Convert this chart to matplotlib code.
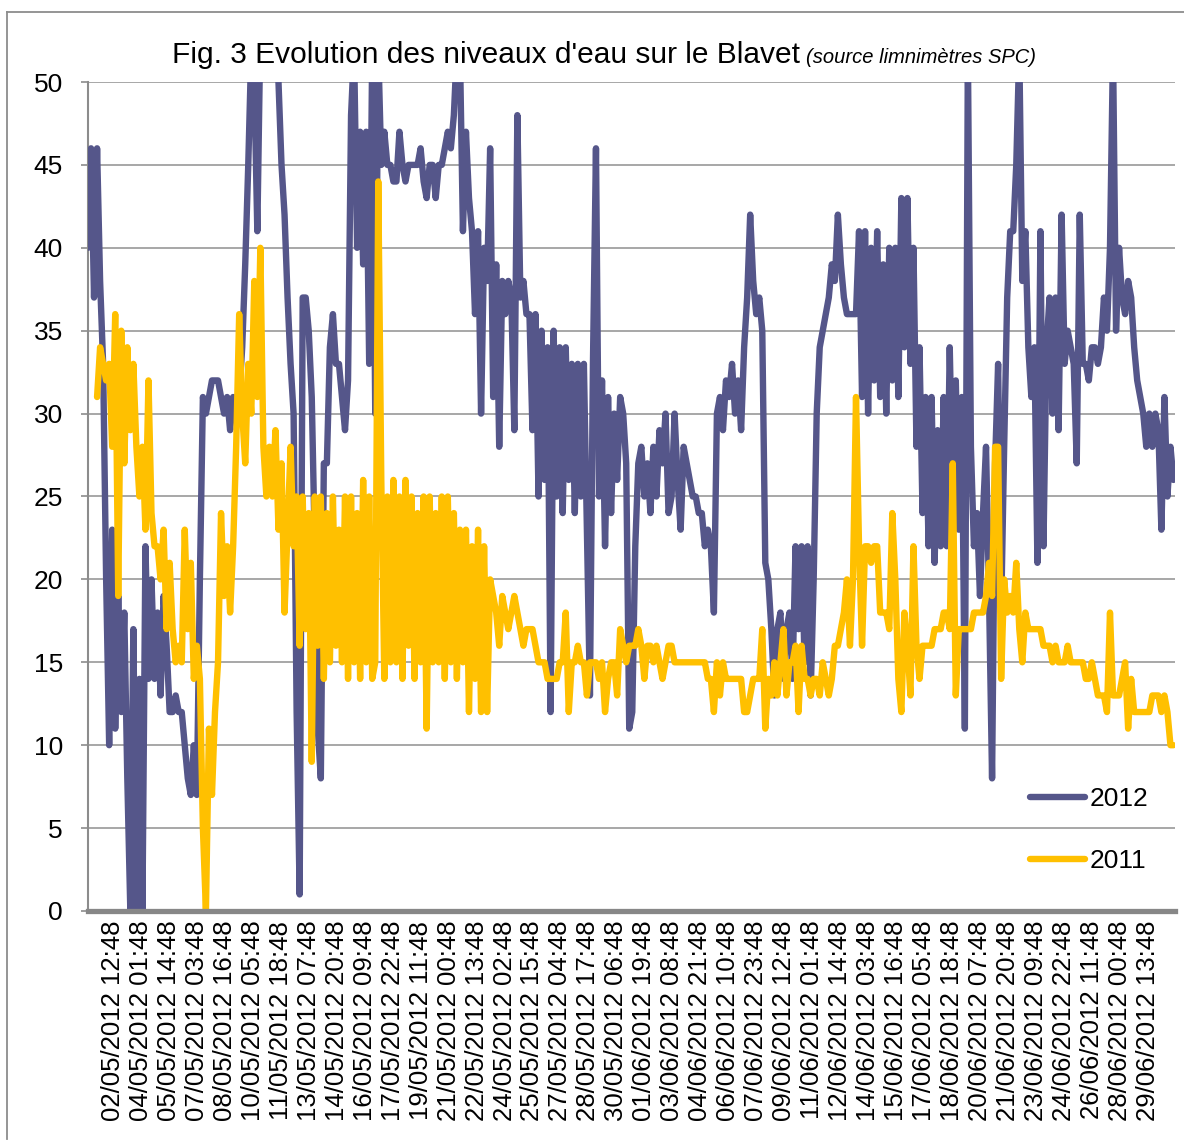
import numpy as np
import matplotlib
matplotlib.use("Agg")
import matplotlib.pyplot as plt
from matplotlib.lines import Line2D

plt.rcParams["path.simplify"] = False
nan = np.nan

# niveaux lus toutes les 4 heures (debut ~01/05 03:48)
step_h = 4
niveaux_2012 = [40, 46, 37, 46, 38, 33, 20, 10, 23, 11,
                19, 12, 18, 8, 0, 17, 0, 14, 0, 22,
                14, 20, 14, 18, 13, 19, 16, 12, 12, 13,
                12, 12, 10, 8, 7, 10, 7, 20, 31, 30,
                31, 32, 32, 32, 31, 30, 31, 29, 31, 30,
                31, 34, 39, 45, 52, 50, 41, 53, 55, 55,
                55, 55, 53, 50, 45, 42, 37, 33, 30, 12,
                1, 37, 37, 35, 31, 22, 11, 8, 27, 27,
                34, 36, 33, 33, 31, 29, 32, 48, 52, 40,
                47, 39, 47, 33, 52, 30, 52, 45, 47, 45,
                45, 44, 44, 47, 45, 44, 45, 45, 45, 45,
                46, 44, 43, 45, 45, 43, 45, 45, 46, 47,
                46, 48, 52, 52, 41, 47, 43, 41, 36, 41,
                30, 40, 38, 46, 31, 39, 28, 38, 36, 38,
                37, 29, 48, 37, 38, 36, 36, 29, 36, 25,
                35, 26, 34, 12, 35, 25, 34, 24, 34, 26,
                33, 24, 33, 25, 33, 23, 13, 33, 46, 25,
                32, 22, 31, 24, 30, 26, 31, 30, 27, 11,
                12, 22, 27, 28, 25, 27, 24, 28, 25, 29,
                27, 30, 24, 25, 30, 26, 23, 28, 27, 26,
                25, 25, 24, 24, 22, 23, 22, 18, 30, 31,
                29, 32, 31, 33, 30, 32, 29, 34, 37, 42,
                38, 36, 37, 35, 21, 20, 17, 13, 17, 18,
                14, 17, 18, 14, 22, 17, 22, 15, 22, 13,
                20, 30, 34, 35, 36, 37, 39, 38, 42, 39,
                37, 36, 36, 36, 36, 41, 31, 41, 30, 40,
                32, 41, 31, 39, 30, 40, 32, 40, 31, 43,
                34, 43, 33, 40, 28, 34, 24, 31, 22, 31,
                21, 29, 22, 31, 22, 34, 25, 32, 23, 31,
                11, 52, 28, 22, 24, 19, 24, 28, 19, 8,
                27, 33, 18, 28, 37, 41, 41, 45, 52, 38,
                41, 34, 31, 34, 21, 41, 22, 34, 37, 30,
                37, 29, 42, 33, 35, 34, 33, 27, 42, 33,
                33, 32, 34, 34, 33, 34, 37, 35, 40, 52,
                35, 40, 37, 36, 38, 37, 34, 32, 31, 30,
                28, 30, 28, 30, 29, 23, 31, 25, 28, 26]

niveaux_2011 = [nan, nan, nan, 31, 34, 33, 32, 33, 28, 36,
                19, 35, 27, 34, 29, 33, 28, 25, 28, 23,
                32, 24, 22, 22, 20, 23, 17, 21, 17, 15,
                16, 15, 23, 17, 21, 14, 16, 14, 5, 0,
                11, 7, 12, 15, 24, 19, 22, 18, 22, 28,
                36, 30, 27, 33, 30, 38, 31, 40, 28, 25,
                28, 25, 29, 23, 27, 18, 23, 28, 22, 25,
                16, 25, 17, 24, 9, 25, 16, 25, 14, 24,
                15, 25, 16, 23, 15, 25, 14, 25, 15, 24,
                14, 26, 15, 25, 14, 15, 44, 26, 14, 25,
                15, 26, 15, 25, 14, 26, 16, 25, 14, 24,
                15, 25, 11, 25, 15, 24, 15, 25, 14, 25,
                15, 24, 14, 23, 15, 23, 12, 22, 14, 23,
                12, 22, 12, 20, 19, 18, 16, 19, 18, 17,
                18, 19, 18, 17, 16, 17, 17, 17, 16, 15,
                15, 15, 14, 14, 14, 14, 15, 15, 18, 12,
                15, 15, 16, 15, 15, 13, 15, 15, 15, 14,
                15, 12, 14, 15, 15, 13, 17, 16, 15, 16,
                16, 16, 17, 16, 14, 16, 16, 15, 16, 15,
                14, 15, 16, 16, 15, 15, 15, 15, 15, 15,
                15, 15, 15, 15, 15, 14, 14, 12, 15, 13,
                15, 14, 14, 14, 14, 14, 14, 12, 12, 13,
                14, 14, 14, 17, 11, 14, 13, 15, 13, 15,
                17, 13, 15, 15, 16, 12, 16, 14, 14, 13,
                14, 14, 13, 15, 14, 13, 14, 16, 16, 17,
                18, 20, 16, 20, 31, 22, 16, 22, 22, 21,
                22, 22, 18, 18, 18, 17, 24, 20, 14, 12,
                18, 16, 13, 22, 16, 14, 16, 16, 16, 16,
                17, 17, 17, 18, 18, 17, 27, 13, 17, 17,
                17, 17, 17, 18, 18, 18, 18, 19, 21, 19,
                28, 28, 14, 20, 18, 19, 18, 21, 17, 15,
                18, 17, 17, 17, 17, 17, 16, 16, 16, 15,
                16, 15, 15, 15, 16, 15, 15, 15, 15, 15,
                14, 14, 15, 14, 13, 13, 13, 12, 18, 13,
                13, 13, 14, 15, 11, 14, 12, 12, 12, 12,
                12, 12, 13, 13, 13, 12, 13, 12, 10, 10]

# etiquettes de l'axe (une toutes les 37 heures)
first_label_h = 33
label_step_h = 37
etiquettes = ["02/05/2012 12:48", "04/05/2012 01:48", "05/05/2012 14:48",
              "07/05/2012 03:48", "08/05/2012 16:48", "10/05/2012 05:48",
              "11/05/2012 18:48", "13/05/2012 07:48", "14/05/2012 20:48",
              "16/05/2012 09:48", "17/05/2012 22:48", "19/05/2012 11:48",
              "21/05/2012 00:48", "22/05/2012 13:48", "24/05/2012 02:48",
              "25/05/2012 15:48", "27/05/2012 04:48", "28/05/2012 17:48",
              "30/05/2012 06:48", "01/06/2012 19:48", "03/06/2012 08:48",
              "04/06/2012 21:48", "06/06/2012 10:48", "07/06/2012 23:48",
              "09/06/2012 12:48", "11/06/2012 01:48", "12/06/2012 14:48",
              "14/06/2012 03:48", "15/06/2012 16:48", "17/06/2012 05:48",
              "18/06/2012 18:48", "20/06/2012 07:48", "21/06/2012 20:48",
              "23/06/2012 09:48", "24/06/2012 22:48", "26/06/2012 11:48",
              "28/06/2012 00:48", "29/06/2012 13:48"]

W, H = 1184, 1142
fig = plt.figure(figsize=(W / 100, H / 100), dpi=100)
ax = fig.add_axes([88 / W, 1 - 911 / H, (1175 - 88) / W, (911 - 82) / H])

heures = np.arange(len(niveaux_2012)) * step_h
c2012 = "#55568A"
c2011 = "#FFC000"
lw = 4.6
ax.plot(heures, niveaux_2012, color=c2012, lw=lw, solid_joinstyle="round",
        solid_capstyle="round", zorder=3)
ax.plot(heures, niveaux_2011, color=c2011, lw=lw, solid_joinstyle="round",
        solid_capstyle="round", zorder=4)

ax.set_ylim(0, 50)
ax.set_xlim(0, heures[-1] + 2)
ax.set_yticks(range(0, 51, 5))
ax.yaxis.grid(True, color="#a0a0a0", lw=1.3)
ax.set_axisbelow(True)

pos = [first_label_h + label_step_h * i for i in range(len(etiquettes))]
ax.set_xticks(pos)
ax.set_xticklabels(etiquettes, rotation=90, ha="center", va="top",
                   family="Liberation Sans", fontsize=18.5)
ax.tick_params(axis="x", length=0, pad=7)
ax.tick_params(axis="y", length=5, width=1.2, color="#8c8c8c", pad=13,
               labelsize=19)
for t in ax.get_yticklabels():
    t.set_family("Liberation Sans")

for s in ["top", "right"]:
    ax.spines[s].set_visible(False)
ax.spines["left"].set_color("#8c8c8c")
ax.spines["left"].set_linewidth(1.5)
ax.spines["bottom"].set_color("#878787")
ax.spines["bottom"].set_linewidth(3.8)
ax.spines["bottom"].set_zorder(5)

handles = [Line2D([], [], color=c2012, lw=lw, solid_capstyle="round"),
           Line2D([], [], color=c2011, lw=lw, solid_capstyle="round")]
ax.legend(handles, ["2012", "2011"], loc="upper left",
          bbox_to_anchor=((1030 - 88) / 1087, (911 - 787) / 829),
          frameon=False, prop={"family": "Liberation Sans", "size": 19},
          handlelength=2.1, handletextpad=0.15, labelspacing=1.45,
          borderpad=0, borderaxespad=0)

titre_font = ["Liberation Sans Narrow", "Liberation Sans", "DejaVu Sans"]
fig.text(172 / W, 1 - 63 / H, "Fig. 3 Evolution des niveaux d'eau sur le Blavet",
         family=titre_font, fontsize=21.5, va="baseline", ha="left")
fig.text(806 / W, 1 - 63 / H, "(source limnimètres SPC)", family=titre_font,
         style="italic", fontsize=14.5, va="baseline", ha="left")

# cadre du graphique
fig.add_artist(Line2D([7 / W, 1], [1 - 12 / H, 1 - 12 / H], color="#8c8c8c", lw=1.3))
fig.add_artist(Line2D([7 / W, 7 / W], [1 - 12 / H, 1 - 1139 / H], color="#8c8c8c", lw=1.3))

fig.savefig("out.png", dpi=100)
